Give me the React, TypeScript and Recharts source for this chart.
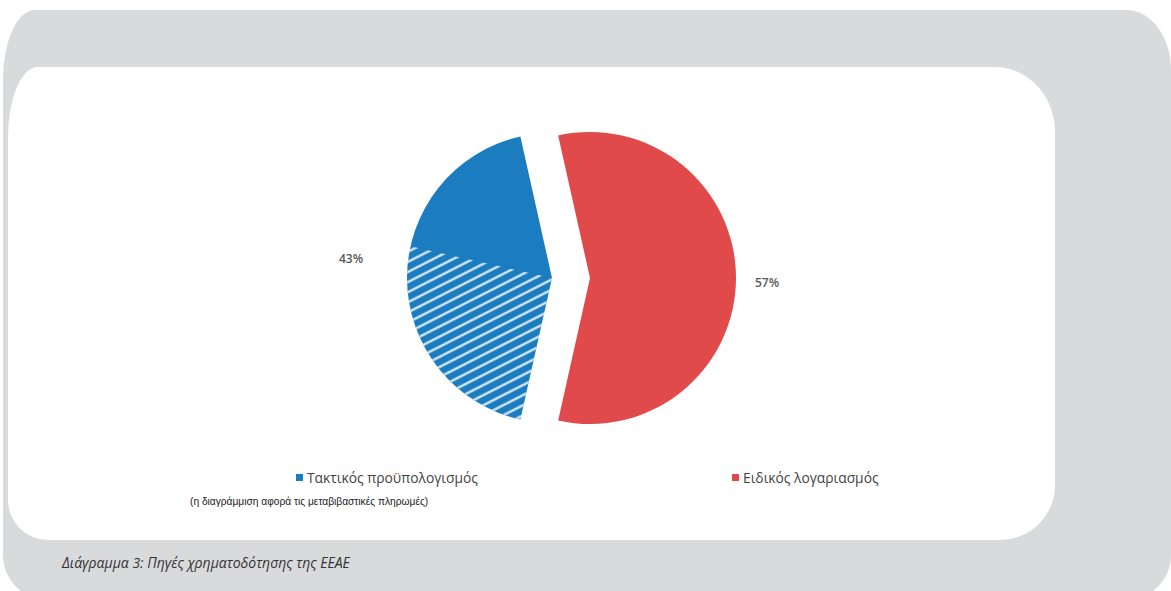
import { PieChart, Pie, Cell, Legend } from 'recharts';

// sources of funding (shares, %)
const categories = ['Τακτικός προϋπολογισμός', 'Ειδικός λογαριασμός'];
const shares = [43, 57];

// same circle, with the hatched part (transfer payments) of the first share split out
const splitNames = ['Τακτικός προϋπολογισμός', 'Μεταβιβαστικές πληρωμές', 'Ειδικός λογαριασμός'];
const splitValues = [18, 25, 57];

const BLUE = '#1c7cc0';
const RED = '#e04a4b';
const COLORS = [BLUE, RED];

const shareData = categories.map((name, i) => ({ name, value: shares[i] }));
const splitData = splitNames.map((name, i) => ({ name, value: splitValues[i] }));

const START = 180 - (shares[0] / 100) * 180; // blue slice centred on the left
const END = START + 360;
const RADIAN = Math.PI / 180;

const makeLabel =
  (target: number, extra: number, dy: number) =>
  ({ cx, cy, midAngle, outerRadius, index, value }: any) => {
    if (index !== target) return null;
    const r = outerRadius + extra;
    const x = cx + r * Math.cos(-midAngle * RADIAN);
    const y = cy + r * Math.sin(-midAngle * RADIAN) + dy;
    return (
      <text
        x={x}
        y={y}
        textAnchor="middle"
        dominantBaseline="central"
        fontFamily="Open Sans, sans-serif"
        fontSize={12}
        fontWeight={600}
        fill="#595959"
      >
        {`${value}%`}
      </text>
    );
  };

const renderLegend = () => (
  <div style={{ position: 'relative', height: 20 }}>
    {categories.map((name, i) => (
      <span
        key={name}
        style={{
          position: 'absolute',
          left: i === 0 ? 296 : 732,
          top: 0,
          display: 'flex',
          alignItems: 'center',
          fontFamily: 'Open Sans, sans-serif',
          fontSize: 13.8,
          color: '#444',
          whiteSpace: 'nowrap',
        }}
      >
        <span
          style={{
            display: 'inline-block',
            width: 7,
            height: 7,
            background: COLORS[i],
            marginRight: 4,
          }}
        />
        {name}
      </span>
    ))}
  </div>
);

export default function App() {
  return (
    <div
      style={{
        position: 'absolute',
        left: 0,
        top: 0,
        width: 1171,
        height: 591,
        overflow: 'hidden',
        background: '#ffffff',
      }}
    >
      <div
        style={{
          position: 'absolute',
          left: 3,
          top: 10,
          width: 1168,
          height: 590,
          background: '#d9dadc',
          borderRadius: '32px 45px 45px 45px / 70px 60px 45px 45px',
        }}
      />
      <div
        style={{
          position: 'absolute',
          left: 8,
          top: 67,
          width: 1047,
          height: 473,
          background: '#ffffff',
          borderRadius: '30px 60px 55px 40px / 70px 65px 55px 40px',
        }}
      />
      <div style={{ position: 'absolute', left: 0, top: 0 }}>
        <PieChart width={1171} height={591} margin={{ top: 0, right: 0, bottom: 0, left: 0 }}>
          <defs>
            <pattern
              id="hatch"
              width={9}
              height={9}
              patternUnits="userSpaceOnUse"
              patternTransform="rotate(-27)"
            >
              <line x1={0} y1={4.5} x2={9} y2={4.5} stroke="#e6f2fb" strokeWidth={2.2} />
            </pattern>
          </defs>
          <Pie
            data={shareData}
            dataKey="value"
            cx={552}
            cy={278}
            outerRadius={145}
            startAngle={START}
            endAngle={END}
            stroke="none"
            labelLine={false}
            label={makeLabel(0, 56, -20)}
            isAnimationActive={false}
          >
            {shareData.map((d, i) => (
              <Cell key={d.name} fill={i === 0 ? BLUE : 'none'} />
            ))}
          </Pie>
          <Pie
            data={splitData}
            dataKey="value"
            cx={552}
            cy={278}
            outerRadius={145}
            startAngle={START}
            endAngle={END}
            stroke="none"
            isAnimationActive={false}
          >
            {splitData.map((d, i) => (
              <Cell key={d.name} fill={i === 1 ? 'url(#hatch)' : 'none'} />
            ))}
          </Pie>
          <Pie
            data={shareData}
            dataKey="value"
            cx={590}
            cy={278}
            outerRadius={146}
            startAngle={START}
            endAngle={END}
            stroke="none"
            labelLine={false}
            label={makeLabel(1, 31, 4)}
            isAnimationActive={false}
          >
            {shareData.map((d, i) => (
              <Cell key={d.name} fill={i === 1 ? RED : 'none'} />
            ))}
          </Pie>
          <Legend
            content={renderLegend}
            wrapperStyle={{ position: 'absolute', left: 0, top: 468, width: 1171, height: 20 }}
          />
        </PieChart>
      </div>
      <div
        style={{
          position: 'absolute',
          left: 190,
          top: 496,
          fontFamily: 'Liberation Sans, Arial, sans-serif',
          fontSize: 10.2,
          color: '#222',
          whiteSpace: 'nowrap',
        }}
      >
        (η διαγράμμιση αφορά τις μεταβιβαστικές πληρωμές)
      </div>
      <div
        style={{
          position: 'absolute',
          left: 62,
          top: 553,
          fontFamily: 'Open Sans, sans-serif',
          fontStyle: 'italic',
          fontSize: 14,
          color: '#333',
          whiteSpace: 'nowrap',
        }}
      >
        Διάγραμμα 3: Πηγές χρηματοδότησης της ΕΕΑΕ
      </div>
    </div>
  );
}
